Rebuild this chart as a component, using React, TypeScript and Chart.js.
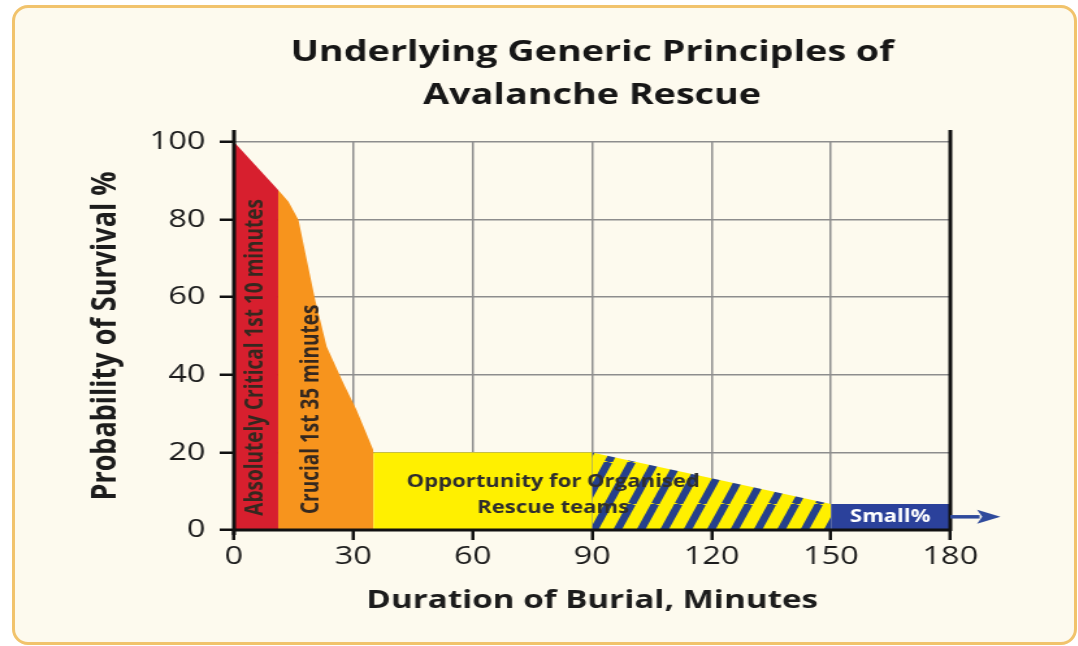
import React, { useEffect, useRef } from "react";
import { Chart, registerables } from "chart.js";

Chart.register(...registerables);

// ---------- data ----------
const TITLE_LINES = ["Underlying Generic Principles of", "Avalanche Rescue"];
const X_TITLE = "Duration of Burial, Minutes";
const Y_TITLE = "Probability of Survival %";

const xTickValues = [0, 30, 60, 90, 120, 150, 180];
const yTickValues = [0, 20, 40, 60, 80, 100];

const redX = [0, 11.1];
const redY = [100, 87.6];

const orangeX = [11.1, 13.7, 16.2, 18.3, 20.4, 23.3, 27.5, 30.8, 35];
const orangeY = [87.6, 84.6, 79.9, 69.6, 59.3, 47.2, 37.8, 30.9, 20.6];

const yellowX = [35, 90];
const yellowY = [20, 20];

const hatchX = [90, 150];
const hatchY = [20, 6.7];

const blueX = [150, 180];
const blueY = [6.7, 6.7];

const arrowX = [180, 192.6];
const arrowY = [3.4, 3.4];

const verticalLabels = ["Absolutely Critical 1st 10 minutes", "Crucial 1st 35 minutes"];
const verticalLabelX = [5.5, 19.5];
const verticalLabelY = [44.5, 31.1];

const flatLabels = ["Opportunity for Organised", "Rescue teams"];
const flatLabelX = [80.2, 80.2];
const flatLabelY = [12.4, 5.7];

const smallLabel = "Small%";
const smallLabelX = 164.9;
const smallLabelY = 3.4;

// ---------- style ----------
const STRETCH = 1.3;
const PAGE_W = 1078;
const PAGE_H = 646;
const CW = Math.round(PAGE_W / STRETCH);

const RED = "#d71f2e";
const ORANGE = "#f7941d";
const YELLOW = "#fff000";
const NAVY = "#25408c";
const BLUE = "#2b419b";
const TEXT = "#1c1c1c";

const pts = (xs: number[], ys: number[]) => xs.map((x, i) => ({ x, y: ys[i] }));

function makeHatch(): CanvasPattern | string {
  const w = 18;
  const h = 42;
  const c = document.createElement("canvas");
  c.width = w;
  c.height = h;
  const g = c.getContext("2d");
  if (!g) return YELLOW;
  g.fillStyle = YELLOW;
  g.fillRect(0, 0, w, h);
  g.strokeStyle = NAVY;
  g.lineWidth = 6.2;
  for (const off of [-w, 0, w]) {
    g.beginPath();
    g.moveTo(off, h);
    g.lineTo(off + w, 0);
    g.stroke();
  }
  return g.createPattern(c, "repeat") || YELLOW;
}

const overlayPlugin = {
  id: "overlay",
  afterDraw(chart: any) {
    const { ctx, chartArea: ca, scales } = chart;
    const xs = scales.x;
    const ys = scales.y;
    ctx.save();

    // axis frame lines
    ctx.strokeStyle = "#111";
    ctx.lineWidth = 3;
    ctx.lineCap = "butt";
    const x0 = xs.getPixelForValue(xTickValues[0]);
    const x1 = xs.getPixelForValue(xTickValues[xTickValues.length - 1]);
    const y0 = ys.getPixelForValue(0);
    ctx.beginPath();
    ctx.moveTo(x0, ca.top - 12);
    ctx.lineTo(x0, ca.bottom + 5);
    ctx.moveTo(x1, ca.top - 12);
    ctx.lineTo(x1, ca.bottom + 1);
    ctx.moveTo(ca.left - 1, y0);
    ctx.lineTo(ca.right + 1, y0);
    ctx.stroke();

    // arrow
    const ax0 = xs.getPixelForValue(arrowX[0]);
    const ax1 = xs.getPixelForValue(arrowX[1]);
    const ay = ys.getPixelForValue(arrowY[0]);
    const head = 18;
    ctx.strokeStyle = "#2f4a9c";
    ctx.fillStyle = "#2f4a9c";
    ctx.lineWidth = 3.5;
    ctx.beginPath();
    ctx.moveTo(ax0, ay);
    ctx.lineTo(ax1 - head + 2, ay);
    ctx.stroke();
    ctx.beginPath();
    ctx.moveTo(ax1, ay);
    ctx.lineTo(ax1 - head, ay - 7);
    ctx.lineTo(ax1 - head + 4, ay);
    ctx.lineTo(ax1 - head, ay + 7);
    ctx.closePath();
    ctx.fill();

    // vertical labels
    ctx.fillStyle = "#35281f";
    ctx.font = 'bold 19px "Open Sans"';
    ctx.textAlign = "center";
    ctx.textBaseline = "middle";
    verticalLabels.forEach((t, i) => {
      ctx.save();
      ctx.translate(xs.getPixelForValue(verticalLabelX[i]), ys.getPixelForValue(verticalLabelY[i]));
      ctx.rotate(-Math.PI / 2);
      ctx.fillText(t, 0, 0);
      ctx.restore();
    });

    // flat labels
    ctx.fillStyle = "#2e2e2e";
    ctx.font = 'bold 17px "Open Sans"';
    flatLabels.forEach((t, i) => {
      ctx.fillText(t, xs.getPixelForValue(flatLabelX[i]), ys.getPixelForValue(flatLabelY[i]));
    });

    // small %
    ctx.fillStyle = "#ffffff";
    ctx.font = 'bold 17px "Open Sans"';
    ctx.fillText(smallLabel, xs.getPixelForValue(smallLabelX), ys.getPixelForValue(smallLabelY));

    // title
    ctx.fillStyle = "#161616";
    ctx.font = 'bold 29px "Open Sans"';
    const cx = (ca.left + ca.right) / 2;
    TITLE_LINES.forEach((t, i) => ctx.fillText(t, cx, 53 + i * 43));

    ctx.restore();
  },
};

export default function App() {
  const canvasRef = useRef<HTMLCanvasElement | null>(null);

  useEffect(() => {
    const canvas = canvasRef.current;
    if (!canvas) return;
    const hatch = makeHatch();
    const common = { borderWidth: 0, pointRadius: 0, tension: 0, fill: "origin" as const };
    const chart = new Chart(canvas, {
      type: "line",
      data: {
        datasets: [
          { ...common, label: "red", data: pts(redX, redY), backgroundColor: RED },
          { ...common, label: "orange", data: pts(orangeX, orangeY), backgroundColor: ORANGE },
          { ...common, label: "yellow", data: pts(yellowX, yellowY), backgroundColor: YELLOW },
          { ...common, label: "hatch", data: pts(hatchX, hatchY), backgroundColor: hatch as any },
          { ...common, label: "blue", data: pts(blueX, blueY), backgroundColor: BLUE },
        ],
      },
      options: {
        responsive: false,
        animation: false,
        events: [],
        layout: { padding: { top: 142, right: CW - Math.round(950 / STRETCH), left: 0, bottom: 0 } },
        plugins: { legend: { display: false }, tooltip: { enabled: false }, title: { display: false } },
        scales: {
          x: {
            type: "linear",
            min: xTickValues[0],
            max: xTickValues[xTickValues.length - 1],
            z: 1,
            afterBuildTicks: (s: any) => {
              s.ticks = xTickValues.map((v) => ({ value: v }));
            },
            afterFit: (s: any) => {
              s.height = PAGE_H - 530;
            },
            border: { display: false },
            grid: { color: "#8d8d8d", lineWidth: 1.5, tickColor: "#111", tickWidth: 2.5, tickLength: 10 },
            ticks: {
              autoSkip: false,
              maxRotation: 0,
              padding: 2,
              color: TEXT,
              font: { family: '"Open Sans"', size: 25 },
            },
            title: {
              display: true,
              text: X_TITLE,
              color: TEXT,
              font: { family: '"Open Sans"', size: 25.5, weight: "bold" },
              padding: { top: 0, bottom: 30 },
            },
          },
          y: {
            type: "linear",
            min: 0,
            max: 100,
            z: 1,
            afterBuildTicks: (s: any) => {
              s.ticks = yTickValues.map((v) => ({ value: v }));
            },
            afterFit: (s: any) => {
              s.width = Math.round(234 / STRETCH);
            },
            border: { display: false },
            grid: { color: "#8d8d8d", lineWidth: 1.5, tickColor: "#111", tickWidth: 2.5, tickLength: 11 },
            ticks: {
              autoSkip: false,
              padding: 11,
              color: TEXT,
              font: { family: '"Open Sans"', size: 25 },
            },
            title: {
              display: true,
              text: Y_TITLE,
              color: TEXT,
              font: { family: '"Open Sans"', size: 27, weight: "bold" },
              padding: { top: 65, bottom: 0 },
            },
          },
        },
      },
      plugins: [overlayPlugin],
    });
    return () => chart.destroy();
  }, []);

  return (
    <div style={{ position: "fixed", left: 0, top: 0, width: PAGE_W, height: PAGE_H, background: "#ffffff", overflow: "hidden" }}>
      <div
        style={{
          position: "absolute",
          left: 12,
          top: 5,
          width: 1065,
          height: 640,
          boxSizing: "border-box",
          border: "3px solid #f1c36c",
          borderRadius: 16,
          background: "#fdfaee",
        }}
      />
      <canvas
        ref={canvasRef}
        width={CW}
        height={PAGE_H}
        style={{
          position: "absolute",
          left: 0,
          top: 0,
          width: CW,
          height: PAGE_H,
          transform: `scaleX(${STRETCH})`,
          transformOrigin: "0 0",
        }}
      />
    </div>
  );
}
